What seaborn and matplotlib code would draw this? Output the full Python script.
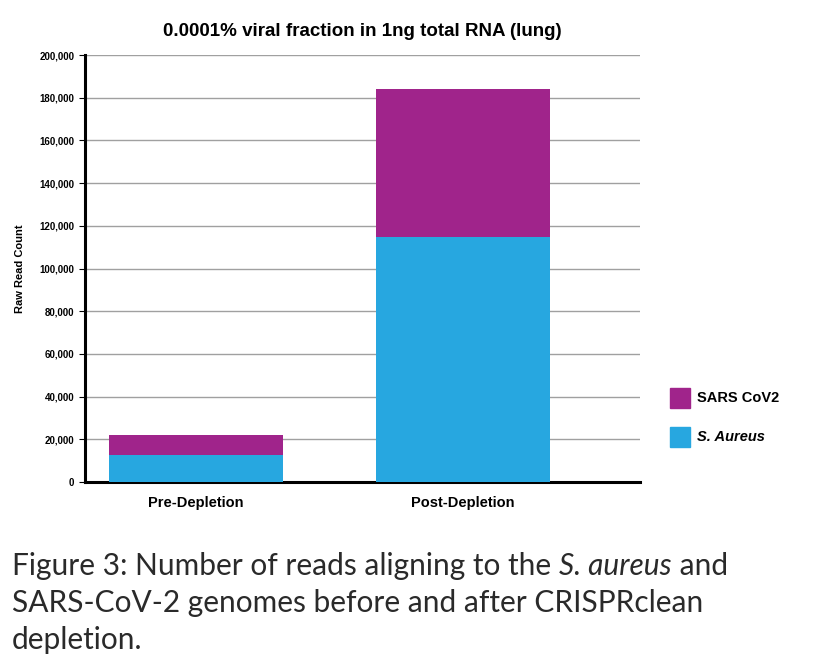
import matplotlib
matplotlib.use("Agg")
import matplotlib.pyplot as plt
import seaborn as sns
import pandas as pd

plt.rcParams["font.family"] = "Liberation Sans"

categories = ["Pre-Depletion", "Post-Depletion"]
s_aureus = [12500, 115000]
sars = [9500, 69000]
yticks = list(range(0, 200001, 20000))

df = pd.DataFrame({"cat": categories, "s": s_aureus, "total": [a + b for a, b in zip(s_aureus, sars)]})

fig = plt.figure(figsize=(8.15, 6.67), dpi=100)
ax = fig.add_axes([0.104, 0.2774, 0.681, 0.640])
sns.barplot(data=df, x="cat", y="total", color="#A0248B", width=0.65, saturation=1, ax=ax, zorder=3)
sns.barplot(data=df, x="cat", y="s", color="#27A7E0", width=0.65, saturation=1, ax=ax, zorder=3)
ax.set_xlim(-0.416, 1.663)
ax.set_ylim(0, 200000)
ax.set_yticks(yticks)
ax.set_yticklabels([f"{v:,}" for v in yticks], fontsize=7, fontweight="bold")
ax.set_xticks([0, 1])
ax.set_xticklabels(categories, fontsize=10.5, fontweight="bold")
ax.tick_params(axis="x", length=0, pad=10)
ax.tick_params(axis="y", length=4, width=0.8)
ax.yaxis.grid(True, color="#a0a0a0", linewidth=1, zorder=0)
ax.set_axisbelow(True)
ax.set_xlabel("")
ax.set_ylabel("Raw Read Count", fontsize=8, fontweight="bold", labelpad=10)
for s in ["top", "right"]:
    ax.spines[s].set_visible(False)
ax.spines["left"].set_linewidth(2.2)
ax.spines["bottom"].set_linewidth(2.2)
ax.set_title("0.0001% viral fraction in 1ng total RNA (lung)", fontsize=13.5, fontweight="bold", pad=14)

fig.patches.append(plt.Rectangle((670/815, 1-408/667), 20/815, 20/667, transform=fig.transFigure, color="#A0248B"))
fig.text(697/815, 1-398/667, "SARS CoV2", fontsize=10.5, fontweight="bold", va="center")
fig.patches.append(plt.Rectangle((670/815, 1-447/667), 20/815, 20/667, transform=fig.transFigure, color="#27A7E0"))
fig.text(697/815, 1-437/667, "S. Aureus", fontsize=10.5, fontweight="bold", style="italic", va="center")

fs = 21.5
cap = dict(fontsize=fs, family="Lato", va="center", color="#2a2a2a")
r = fig.canvas.get_renderer()
def line(y, parts):
    x = 12
    for txt, kw in parts:
        t = fig.text(x/815, 1-y/667, txt, **cap, **kw)
        x += t.get_window_extent(r).width
line(566, [("Figure 3: ", {}), ("Number of reads aligning to the ", {}),
           ("S. aureus", {"style": "italic"}), (" and", {})])
line(603, [("SARS-CoV-2 genomes before and after CRISPRclean", {})])
line(640, [("depletion.", {})])
fig.savefig("out.png", dpi=100)
